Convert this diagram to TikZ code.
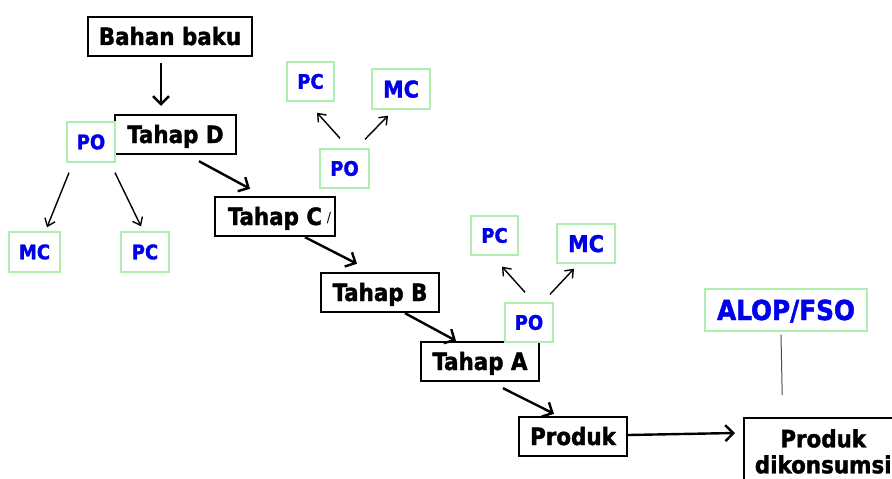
\documentclass[tikz,border=0pt]{standalone}
\usepackage{fontspec}
\setmainfont{DejaVu Sans Condensed}[BoldFeatures={FakeBold=1.6}]
\usetikzlibrary{arrows.meta}
\definecolor{boxgreen}{RGB}{175,238,175}
\definecolor{lblblue}{RGB}{0,0,235}
\tikzset{
  stagebox/.style={draw=black, line width=2.4pt, inner sep=0pt,
    text height=17pt, text depth=0pt,
    font=\bfseries\fontsize{23.8}{26}\selectfont},
  ctrlbox/.style={draw=boxgreen, line width=1.4pt, inner sep=0pt,
    text height=14.5pt, text depth=0pt,
    text=lblblue, font=\bfseries\fontsize{20}{22}\selectfont},
  bigctrl/.style={ctrlbox, text height=17pt, font=\bfseries\fontsize{23}{25}\selectfont},
  flowarrow/.style={line width=2.4pt, -{Straight Barb[length=8pt,width=16pt,line width=2.4pt]}},
  ctrlarrow/.style={line width=1.4pt, -{Straight Barb[length=7pt,width=11pt,line width=1.4pt]}},
}
\begin{document}
\begin{tikzpicture}[x=1pt,y=-1pt]
\clip (0,0) rectangle (892,479);
\fill[white] (0,0) rectangle (892,479);

% process chain
\node[stagebox, minimum width=164pt, minimum height=39pt] (bahan) at (170,36.5) {Bahan baku};
\node[stagebox, minimum width=121pt, minimum height=39pt] (tD) at (175.5,134.5) {Tahap D};
\node[stagebox, minimum width=120pt, minimum height=39pt] (tC) at (275,216.5) {Tahap C};
\node[font=\fontsize{14}{16}\selectfont, inner sep=0pt] (slash) at (329,218) {/};
\node[stagebox, minimum width=118pt, minimum height=39pt] (tB) at (380,292.5) {Tahap B};
\node[stagebox, minimum width=118pt, minimum height=39pt] (tA) at (480,361.5) {Tahap A};
\node[stagebox, minimum width=108pt, minimum height=39pt] (prod) at (573,436.5) {Produk};
% consumer box runs past the lower and right edges
\node[stagebox, anchor=north west, minimum width=158pt,
      text height=, text depth=, text width=150pt, align=center,
      inner xsep=0pt, inner ysep=11pt] (kons) at (743,417) {Produk\\dikonsumsi};

% control measures
\node[ctrlbox, minimum width=48pt, minimum height=40pt] (poL) at (91,142) {PO};
\node[ctrlbox, minimum width=51pt, minimum height=40pt] (mcL) at (34.5,252) {MC};
\node[ctrlbox, minimum width=48pt, minimum height=40pt] (pcL) at (145,252) {PC};
\node[ctrlbox, minimum width=47pt, minimum height=39pt] (pcM) at (310.5,81.5) {PC};
\node[bigctrl, minimum width=58pt, minimum height=40pt] (mcM) at (401,89) {MC};
\node[ctrlbox, minimum width=49pt, minimum height=39pt] (poM) at (344.5,168.5) {PO};
\node[ctrlbox, minimum width=47pt, minimum height=39pt] (pcR) at (494.5,235.5) {PC};
\node[bigctrl, minimum width=58pt, minimum height=39pt] (mcR) at (586,243.5) {MC};
\node[ctrlbox, minimum width=48pt, minimum height=39pt] (poR) at (529,322.5) {PO};
\node[ctrlbox, minimum width=162pt, minimum height=42pt, text height=20pt,
      font=\bfseries\fontsize{27.5}{30}\selectfont] (alop) at (786,310) {ALOP/FSO};

% flow arrows
\draw[flowarrow] ([shift={(-9,6)}]bahan.south) -- ([shift={(-14.5,-8)}]tD.north);
\draw[flowarrow] ([shift={(23.5,6)}]tD.south) -- ([shift={(-25,-7)}]tC.north);
\draw[flowarrow] ([shift={(30,0)}]tC.south) -- ([shift={(-23,-8)}]tB.north);
\draw[flowarrow] ([shift={(25,0)}]tB.south) -- ([shift={(-24,0)}]tA.north);
\draw[flowarrow] ([shift={(23,6)}]tA.south) -- ([shift={(-19,-2)}]prod.north);
\draw[flowarrow] ([shift={(0,-1.5)}]prod.east) -- ([shift={(-8,16)}]kons.north west);

% control arrows
\draw[ctrlarrow] ([shift={(-22,10)}]poL.south) -- ([shift={(12.5,-4)}]mcL.north);
\draw[ctrlarrow] ([shift={(24,10)}]poL.south) -- ([shift={(-4,-5)}]pcL.north);
\draw[ctrlarrow] ([shift={(-4.5,-10)}]poM.north) -- ([shift={(6.5,11)}]pcM.south);
\draw[ctrlarrow] ([shift={(20.5,-9)}]poM.north) -- ([shift={(-13,6)}]mcM.south);
\draw[ctrlarrow] ([shift={(-4,-10)}]poR.north) -- ([shift={(7.5,11)}]pcR.south);
\draw[ctrlarrow] ([shift={(21,-8)}]poR.north) -- ([shift={(-12,5)}]mcR.south);

% target level link
\draw[line width=1pt, black!70] ([shift={(-5,3)}]alop.south) -- ([shift={(-41,-22)}]kons.north);
\end{tikzpicture}
\end{document}
